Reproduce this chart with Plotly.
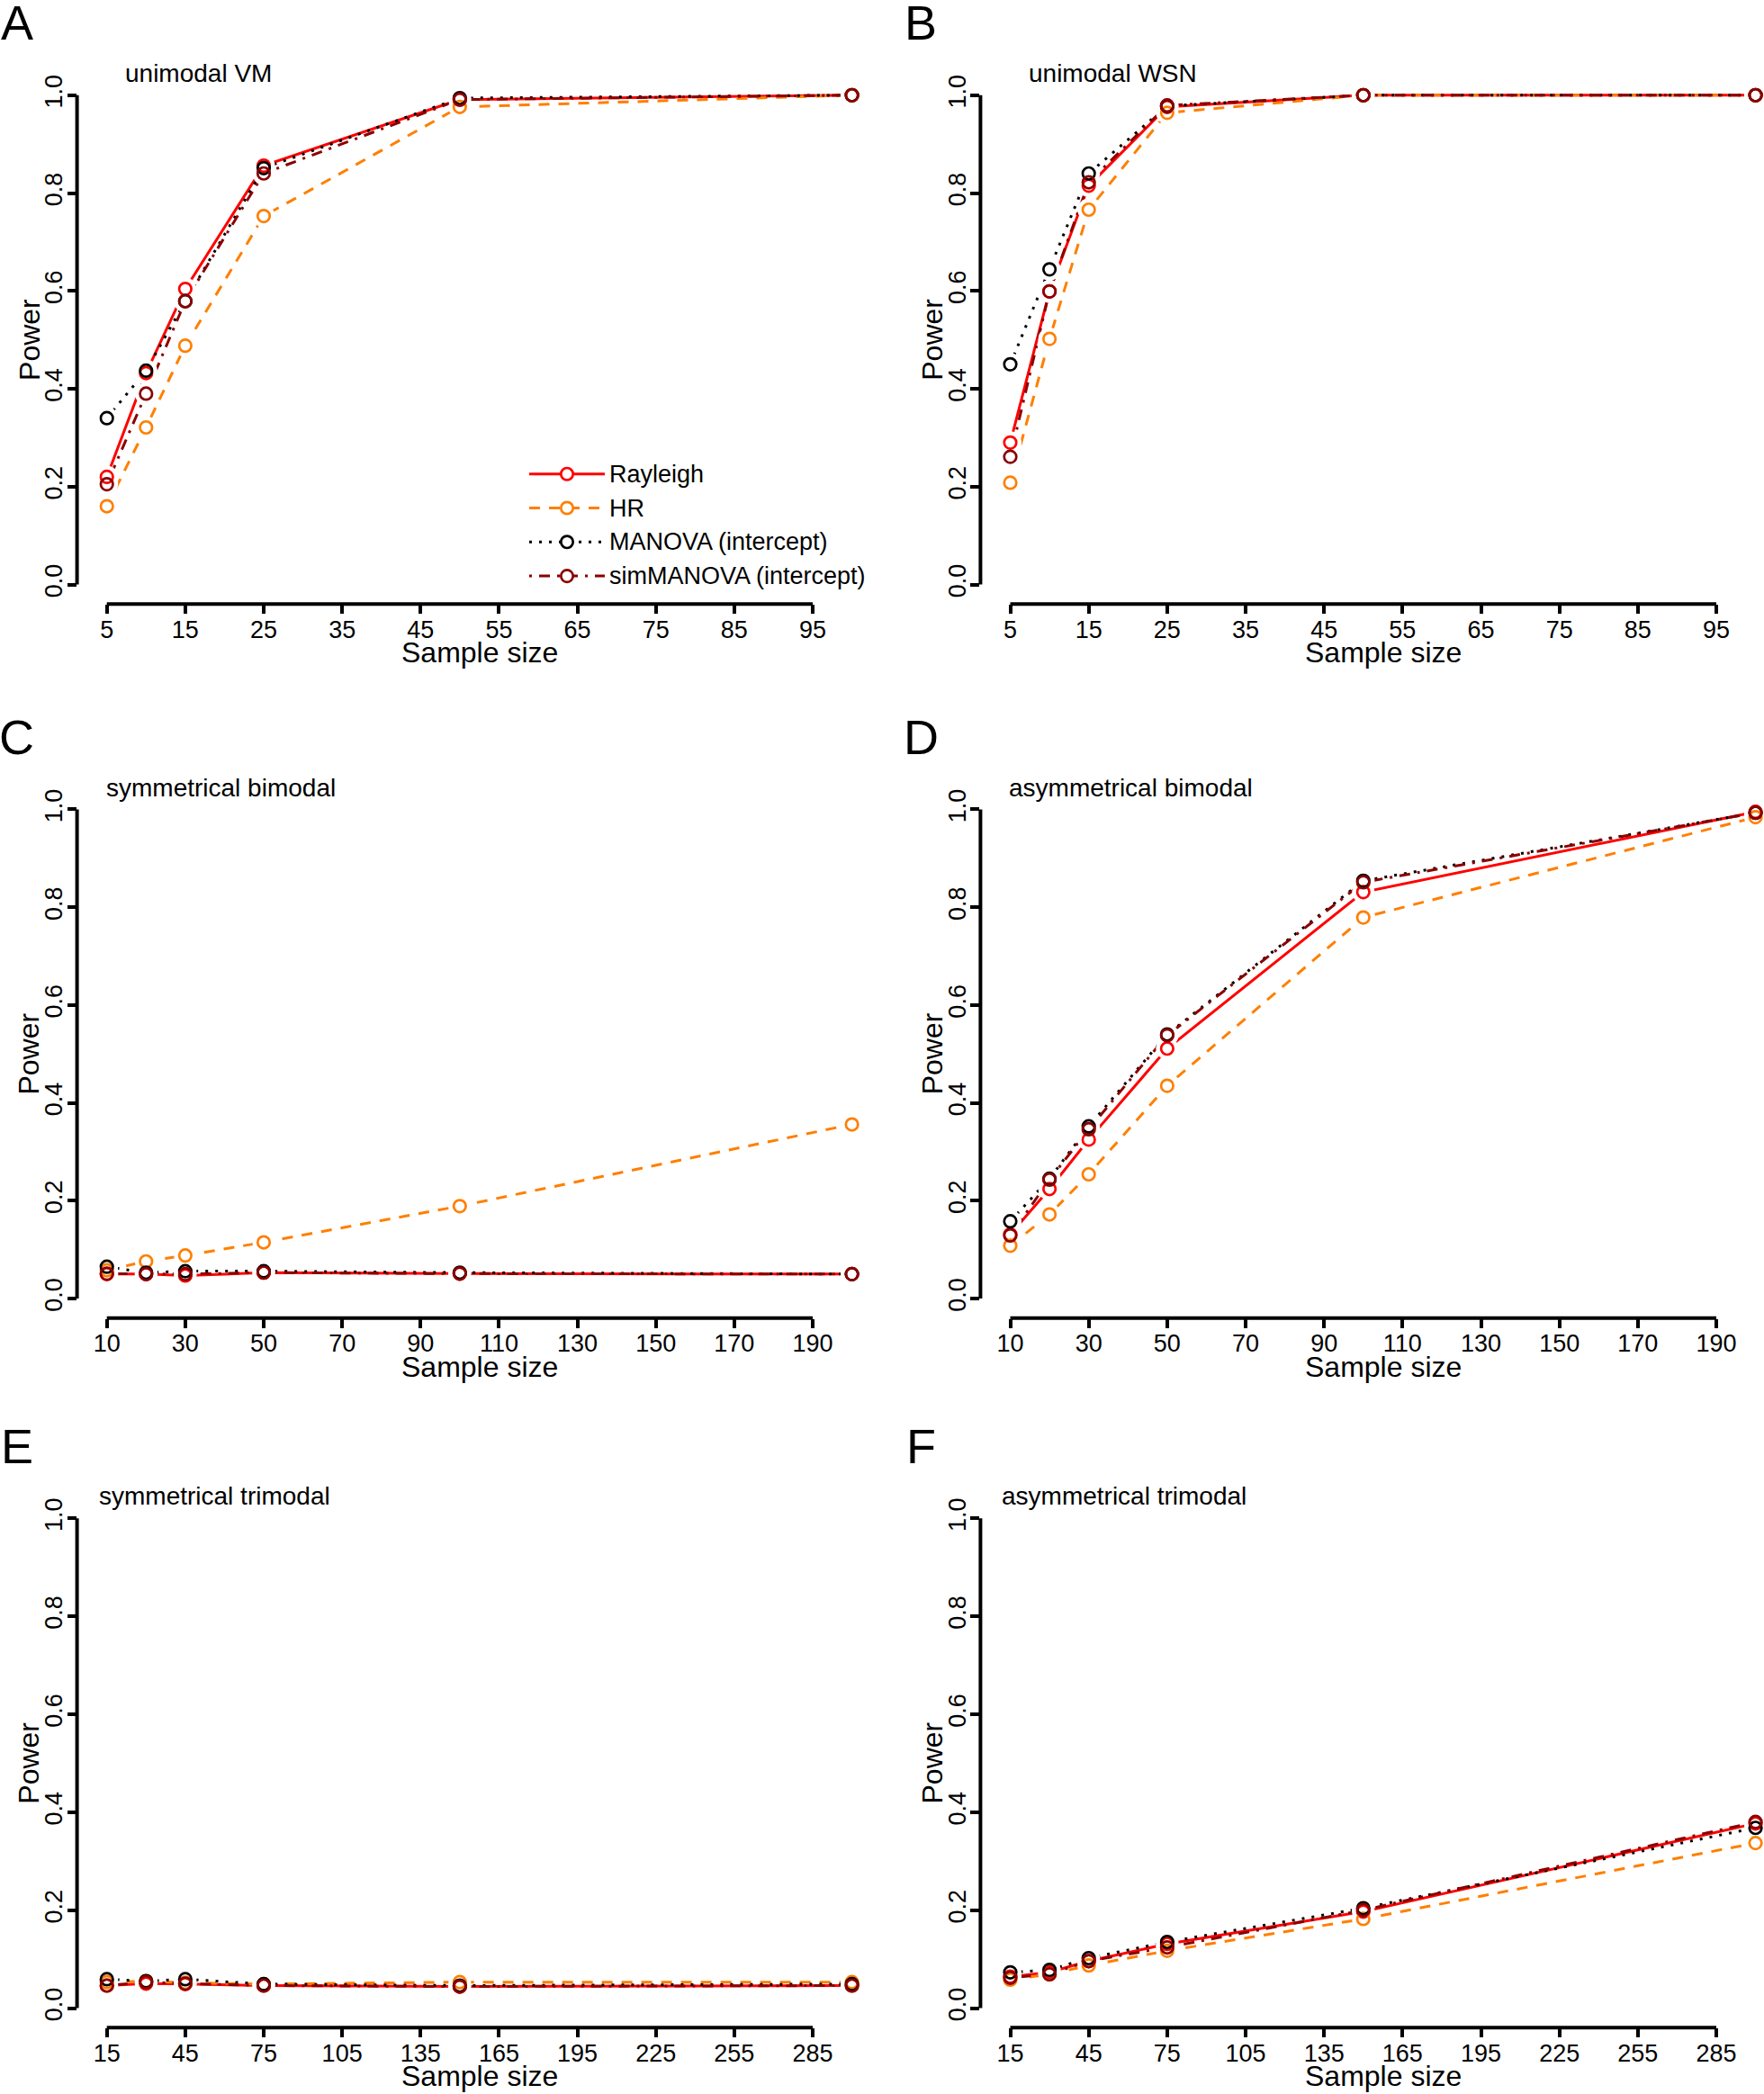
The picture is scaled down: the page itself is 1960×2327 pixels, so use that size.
import plotly.graph_objects as go

W, H = 1960, 2327
FONT = "Liberation Sans, Arial, Helvetica, sans-serif"

# ---------------- data ----------------
sizes_unimodal = [5, 10, 15, 25, 50, 100]
sizes_bimodal = [10, 20, 30, 50, 100, 200]
sizes_trimodal = [15, 30, 45, 75, 150, 300]

ticks_unimodal = [5, 15, 25, 35, 45, 55, 65, 75, 85, 95]
ticks_bimodal = [10, 30, 50, 70, 90, 110, 130, 150, 170, 190]
ticks_trimodal = [15, 45, 75, 105, 135, 165, 195, 225, 255, 285]
power_ticks = [0.0, 0.2, 0.4, 0.6, 0.8, 1.0]
power_ticktext = ["0.0", "0.2", "0.4", "0.6", "0.8", "1.0"]

series_names = ["Rayleigh", "HR", "MANOVA (intercept)", "simMANOVA (intercept)"]

# A: unimodal VM
vm_rayleigh = [0.220, 0.432, 0.604, 0.856, 0.991, 1.000]
vm_hr = [0.160, 0.321, 0.488, 0.753, 0.976, 1.000]
vm_manova = [0.340, 0.437, 0.579, 0.851, 0.994, 1.000]
vm_simmanova = [0.205, 0.390, 0.579, 0.840, 0.991, 1.000]
# B: unimodal WSN
wsn_rayleigh = [0.290, 0.599, 0.815, 0.976, 1.000, 1.000]
wsn_hr = [0.208, 0.502, 0.766, 0.964, 1.000, 1.000]
wsn_manova = [0.450, 0.644, 0.840, 0.978, 1.000, 1.000]
wsn_simmanova = [0.261, 0.599, 0.822, 0.979, 1.000, 1.000]
# C: symmetrical bimodal
sbi_rayleigh = [0.050, 0.050, 0.047, 0.053, 0.051, 0.050]
sbi_hr = [0.058, 0.076, 0.088, 0.115, 0.189, 0.356]
sbi_manova = [0.065, 0.053, 0.056, 0.056, 0.053, 0.050]
sbi_simmanova = [0.051, 0.050, 0.050, 0.053, 0.051, 0.050]
# D: asymmetrical bimodal
abi_rayleigh = [0.131, 0.224, 0.325, 0.511, 0.831, 0.995]
abi_hr = [0.108, 0.172, 0.254, 0.435, 0.779, 0.984]
abi_manova = [0.158, 0.245, 0.352, 0.540, 0.854, 0.993]
abi_simmanova = [0.129, 0.243, 0.346, 0.538, 0.851, 0.993]
# E: symmetrical trimodal
stri_rayleigh = [0.046, 0.050, 0.049, 0.046, 0.044, 0.046]
stri_hr = [0.053, 0.055, 0.052, 0.049, 0.053, 0.053]
stri_manova = [0.059, 0.055, 0.059, 0.049, 0.046, 0.049]
stri_simmanova = [0.046, 0.053, 0.050, 0.046, 0.044, 0.046]
# F: asymmetrical trimodal
atri_rayleigh = [0.064, 0.073, 0.096, 0.131, 0.197, 0.377]
atri_hr = [0.058, 0.069, 0.087, 0.117, 0.182, 0.337]
atri_manova = [0.073, 0.078, 0.102, 0.135, 0.204, 0.368]
atri_simmanova = [0.062, 0.069, 0.096, 0.124, 0.200, 0.380]

# ---------------- style ----------------
colors = ["#FF0000", "#FF7F00", "#000000", "#8B0000"]
dashes = ["solid", "12px,10px", "3px,8px", "3px,8px,12px,8px"]
LW = 3
MSIZE = 13.5
MLW = 2.7

# plot regions in px (left, right) per column, (top, bottom) per row
col_px = [(85.6, 979.7), (1089.4, 1983.7)]
row_px = [(84.0, 671.3), (877.7, 1464.8), (1665.5, 2253.3)]

panels = [
    dict(letter="A", title="unimodal VM", row=0, col=0, sizes=sizes_unimodal, ticks=ticks_unimodal,
         data=[vm_rayleigh, vm_hr, vm_manova, vm_simmanova], tdx=51.5),
    dict(letter="B", title="unimodal WSN", row=0, col=1, sizes=sizes_unimodal, ticks=ticks_unimodal,
         data=[wsn_rayleigh, wsn_hr, wsn_manova, wsn_simmanova], tdx=51.5),
    dict(letter="C", title="symmetrical bimodal", row=1, col=0, sizes=sizes_bimodal, ticks=ticks_bimodal,
         data=[sbi_rayleigh, sbi_hr, sbi_manova, sbi_simmanova], tdx=30.0),
    dict(letter="D", title="asymmetrical bimodal", row=1, col=1, sizes=sizes_bimodal, ticks=ticks_bimodal,
         data=[abi_rayleigh, abi_hr, abi_manova, abi_simmanova], tdx=30.0),
    dict(letter="E", title="symmetrical trimodal", row=2, col=0, sizes=sizes_trimodal, ticks=ticks_trimodal,
         data=[stri_rayleigh, stri_hr, stri_manova, stri_simmanova], tdx=22.0),
    dict(letter="F", title="asymmetrical trimodal", row=2, col=1, sizes=sizes_trimodal, ticks=ticks_trimodal,
         data=[atri_rayleigh, atri_hr, atri_manova, atri_simmanova], tdx=22.0),
]

letter_cx = [18.5, 1023.0]

fig = go.Figure()
shapes = []
annotations = []
layout = {}

def px_x(p):
    return p / W

def px_y(p):
    return 1 - p / H

Y0, Y1 = -0.04, 1.04

for i, p in enumerate(panels):
    n = "" if i == 0 else str(i + 1)
    xa, ya = "x" + n, "y" + n
    L, R = col_px[p["col"]]
    T, B = row_px[p["row"]]
    full_center = (L + R) / 2
    lo, hi = p["sizes"][0], p["sizes"][-1]
    ext = 0.04 * (hi - lo)
    r0, r1 = lo - ext, hi + ext
    if R > W:
        r1 = r0 + (r1 - r0) * (W - L) / (R - L)
        R = W

    # lines
    for k in range(4):
        fig.add_trace(go.Scatter(
            x=p["sizes"], y=p["data"][k], mode="lines", xaxis=xa, yaxis=ya,
            line=dict(color=colors[k], width=LW, dash=dashes[k]),
            name=series_names[k], showlegend=False, hoverinfo="skip"))
    # gaps around points (R type="b")
    for k in range(4):
        fig.add_trace(go.Scatter(
            x=p["sizes"], y=p["data"][k], mode="markers", xaxis=xa, yaxis=ya,
            marker=dict(color="white", size=25, line=dict(width=0)),
            cliponaxis=False, showlegend=False, hoverinfo="skip"))
    # open circles
    for k in range(4):
        fig.add_trace(go.Scatter(
            x=p["sizes"], y=p["data"][k], mode="markers", xaxis=xa, yaxis=ya,
            marker=dict(symbol="circle-open", color=colors[k], size=MSIZE, line=dict(width=MLW, color=colors[k])),
            cliponaxis=False, name=series_names[k], showlegend=False))

    layout["xaxis" + n] = dict(
        domain=[px_x(L), px_x(R)], range=[r0, r1], anchor=ya,
        showgrid=False, zeroline=False, showline=False, automargin=False,
        ticks="outside", ticklen=10, tickwidth=4, tickcolor="black",
        tickvals=p["ticks"], ticktext=[str(t) for t in p["ticks"]],
        ticklabelstandoff=-6,
        tickfont=dict(family=FONT, size=27, color="black"))
    layout["yaxis" + n] = dict(
        domain=[px_y(B), px_y(T)], range=[Y0, Y1], anchor=xa,
        showgrid=False, zeroline=False, showline=False, automargin=False,
        ticks="outside", ticklen=10, tickwidth=4, tickcolor="black",
        tickvals=power_ticks, ticktext=power_ticktext, tickangle=-90,
        ticklabelstandoff=-5,
        tickfont=dict(family=FONT, size=27, color="black"))

    def dx(v):
        return px_x(L + (v - r0) / (r1 - r0) * (R - L))

    def dy(v):
        return px_y(B - (v - Y0) / (Y1 - Y0) * (B - T))

    # axis lines spanning tick range (R style)
    shapes.append(dict(type="line", xref="paper", yref="paper",
                       x0=dx(p["ticks"][0]), x1=dx(p["ticks"][-1]), y0=px_y(B), y1=px_y(B),
                       line=dict(color="black", width=4)))
    shapes.append(dict(type="line", xref="paper", yref="paper",
                       x0=px_x(L), x1=px_x(L), y0=dy(power_ticks[0]), y1=dy(power_ticks[-1]),
                       line=dict(color="black", width=4)))

    # panel letter
    annotations.append(dict(text=p["letter"], xref="paper", yref="paper",
                            x=px_x(letter_cx[p["col"]]), y=px_y(T - 59), xanchor="center", yanchor="middle",
                            showarrow=False, font=dict(family=FONT, size=54, color="black")))
    # panel title
    annotations.append(dict(text=p["title"], xref="paper", yref="paper",
                            x=px_x(L + p["tdx"]), y=px_y(T - 2.7), xanchor="left", yanchor="middle",
                            showarrow=False, font=dict(family=FONT, size=28, color="black")))
    # axis titles
    annotations.append(dict(text="Power", xref="paper", yref="paper", textangle=-90,
                            x=px_x(L - 53.3), y=px_y((T + B) / 2), xanchor="center", yanchor="middle",
                            showarrow=False, font=dict(family=FONT, size=32, color="black")))
    annotations.append(dict(text="Sample size", xref="paper", yref="paper",
                            x=px_x(full_center), y=px_y(B + 54), xanchor="center", yanchor="middle",
                            showarrow=False, font=dict(family=FONT, size=32, color="black")))

# legend in panel A (drawn R-style)
leg_rows = [526.7, 564.5, 602.3, 640.1]
for k in range(4):
    yy = px_y(leg_rows[k])
    shapes.append(dict(type="line", xref="paper", yref="paper", x0=px_x(588), x1=px_x(672), y0=yy, y1=yy,
                       line=dict(color=colors[k], width=LW, dash=dashes[k])))
    shapes.append(dict(type="circle", xref="paper", yref="paper", xsizemode="pixel", ysizemode="pixel",
                       xanchor=px_x(630), yanchor=yy, x0=-6.7, x1=6.7, y0=-6.7, y1=6.7,
                       fillcolor="white", line=dict(color=colors[k], width=MLW)))
    annotations.append(dict(text=series_names[k], xref="paper", yref="paper", x=px_x(675), y=yy,
                            xanchor="left", yanchor="middle", showarrow=False,
                            font=dict(family=FONT, size=27, color="black")))

fig.update_layout(
    width=W, height=H, margin=dict(l=0, r=0, t=0, b=0),
    paper_bgcolor="white", plot_bgcolor="white", showlegend=False,
    shapes=shapes, annotations=annotations, **layout)

fig.write_html(
    "out.html",
    config={"displayModeBar": False},
    post_script="document.body.style.margin='0';document.body.style.padding='0';"
                "document.documentElement.style.overflow='hidden';")
